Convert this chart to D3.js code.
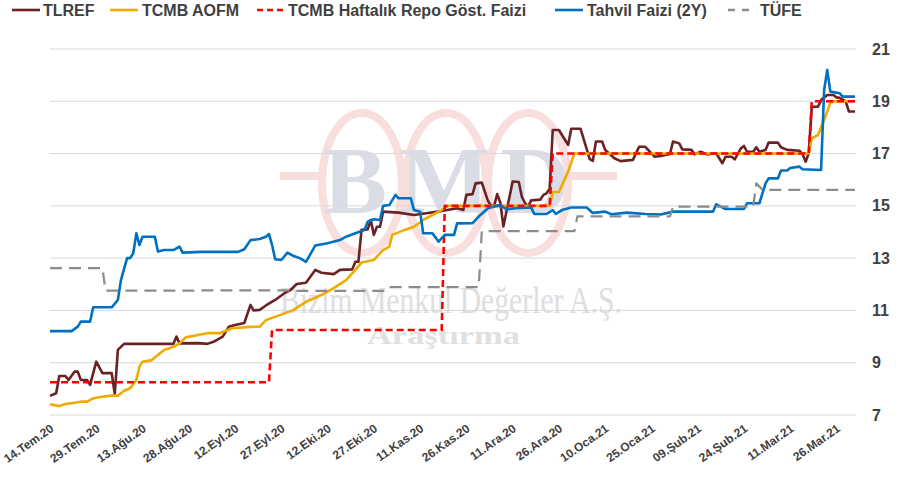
<!DOCTYPE html>
<html>
<head>
<meta charset="utf-8">
<script src="https://cdn.jsdelivr.net/npm/d3@7"></script>
<style>
  body { margin: 0; background: #fff; }
  svg { font-family: "Liberation Sans", Arial, sans-serif; }
</style>
</head>
<body>
<div id="chart"></div>
<script>
// Seriler (tarih, değer)
const tlrefDates = ["2020-07-14","2020-07-16","2020-07-17","2020-07-19","2020-07-20","2020-07-22","2020-07-23","2020-07-24","2020-07-26","2020-07-27","2020-07-29","2020-07-31","2020-08-03","2020-08-04","2020-08-05","2020-08-07","2020-08-23","2020-08-24","2020-08-25","2020-08-31","2020-09-03","2020-09-05","2020-09-08","2020-09-10","2020-09-12","2020-09-15","2020-09-17","2020-09-18","2020-09-20","2020-09-22","2020-09-25","2020-09-28","2020-09-30","2020-10-02","2020-10-05","2020-10-08","2020-10-10","2020-10-14","2020-10-16","2020-10-20","2020-10-21","2020-10-22","2020-10-23","2020-10-25","2020-10-26","2020-10-27","2020-10-28","2020-10-29","2020-10-30","2020-11-04","2020-11-09","2020-11-13","2020-11-18","2020-11-23","2020-11-25","2020-11-26","2020-11-28","2020-11-29","2020-12-01","2020-12-03","2020-12-04","2020-12-05","2020-12-06","2020-12-07","2020-12-08","2020-12-09","2020-12-11","2020-12-13","2020-12-14","2020-12-15","2020-12-16","2020-12-17","2020-12-20","2020-12-21","2020-12-22","2020-12-23","2020-12-24","2020-12-26","2020-12-29","2020-12-30","2021-01-02","2021-01-05","2021-01-06","2021-01-07","2021-01-09","2021-01-10","2021-01-13","2021-01-15","2021-01-19","2021-01-21","2021-01-23","2021-01-26","2021-01-28","2021-01-31","2021-02-01","2021-02-03","2021-02-04","2021-02-07","2021-02-08","2021-02-10","2021-02-12","2021-02-15","2021-02-17","2021-02-18","2021-02-20","2021-02-21","2021-02-23","2021-02-24","2021-02-25","2021-02-27","2021-02-28","2021-03-01","2021-03-03","2021-03-04","2021-03-07","2021-03-08","2021-03-10","2021-03-14","2021-03-15","2021-03-16","2021-03-17","2021-03-18","2021-03-20","2021-03-21","2021-03-23","2021-03-25","2021-03-26","2021-03-27","2021-03-29","2021-03-30","2021-04-01"];
const tlrefValues = [7.73,7.83,8.49,8.49,8.34,8.66,8.66,8.34,8.34,8.15,9.04,8.60,8.60,7.80,9.49,9.72,9.72,10.00,9.74,9.75,9.72,9.80,10.00,10.38,10.44,10.52,11.21,11.00,11.02,11.19,11.40,11.66,11.78,12.01,12.06,12.55,12.44,12.39,12.55,12.57,12.86,12.86,14.08,14.10,14.46,13.89,14.20,14.20,14.78,14.74,14.65,14.72,14.80,14.91,14.84,15.42,15.45,15.86,15.89,15.19,15.01,15.01,15.45,15.13,14.21,14.78,15.93,15.91,15.34,15.11,14.97,15.21,15.24,15.42,15.48,15.65,17.90,17.90,17.33,17.95,17.95,16.79,16.72,17.46,17.46,17.14,16.82,16.71,16.76,17.26,17.26,16.88,16.91,16.98,17.46,17.39,17.16,17.14,16.97,17.07,16.97,17.01,16.63,16.88,16.88,16.78,17.20,17.29,17.07,17.07,17.24,17.07,17.14,17.42,17.42,17.24,17.14,17.11,16.97,16.69,17.01,18.79,18.79,19.05,19.24,19.24,19.15,19.13,19.00,18.61,18.61];

const aofmDates = ["2020-07-14","2020-07-17","2020-07-19","2020-07-22","2020-07-24","2020-07-26","2020-07-28","2020-07-31","2020-08-03","2020-08-05","2020-08-07","2020-08-09","2020-08-11","2020-08-12","2020-08-13","2020-08-16","2020-08-18","2020-08-20","2020-08-23","2020-08-25","2020-08-27","2020-08-31","2020-09-03","2020-09-07","2020-09-11","2020-09-17","2020-09-20","2020-09-22","2020-09-27","2020-10-01","2020-10-05","2020-10-10","2020-10-14","2020-10-18","2020-10-21","2020-10-23","2020-10-27","2020-10-30","2020-11-01","2020-11-02","2020-11-06","2020-11-09","2020-11-12","2020-11-15","2020-11-18","2020-11-20","2020-12-23","2020-12-24","2020-12-26","2020-12-29","2020-12-31","2021-03-17","2021-03-18","2021-03-20","2021-03-22","2021-03-24","2021-03-25","2021-04-01"];
const aofmValues = [7.41,7.34,7.42,7.47,7.51,7.51,7.64,7.70,7.74,7.74,7.93,8.02,8.34,8.85,9.04,9.10,9.30,9.49,9.61,9.74,9.97,10.06,10.13,10.13,10.32,10.37,10.38,10.63,10.84,11.02,11.33,11.59,11.85,12.16,12.55,12.83,12.93,13.31,13.44,13.89,14.08,14.20,14.46,14.65,14.84,15.00,15.00,15.53,15.53,16.32,17.00,17.00,17.58,17.71,18.29,18.94,19.00,19.00];

const repoDates = ["2020-07-14","2020-09-23","2020-09-24","2020-11-18","2020-11-19","2020-12-23","2020-12-24","2021-03-17","2021-03-18","2021-04-01"];
const repoValues = [8.25,8.25,10.25,10.25,15,15,17,17,19,19];

const bondDates = ["2020-07-14","2020-07-21","2020-07-23","2020-07-24","2020-07-27","2020-07-28","2020-08-03","2020-08-05","2020-08-06","2020-08-08","2020-08-09","2020-08-10","2020-08-11","2020-08-12","2020-08-13","2020-08-17","2020-08-18","2020-08-20","2020-08-23","2020-08-25","2020-08-26","2020-09-01","2020-09-13","2020-09-15","2020-09-17","2020-09-20","2020-09-22","2020-09-23","2020-09-24","2020-09-25","2020-09-27","2020-09-29","2020-10-01","2020-10-03","2020-10-05","2020-10-08","2020-10-12","2020-10-16","2020-10-18","2020-10-21","2020-10-24","2020-10-25","2020-10-27","2020-10-29","2020-10-30","2020-11-01","2020-11-03","2020-11-04","2020-11-08","2020-11-09","2020-11-11","2020-11-12","2020-11-15","2020-11-17","2020-11-19","2020-11-22","2020-11-23","2020-11-28","2020-11-30","2020-12-03","2020-12-07","2020-12-09","2020-12-12","2020-12-17","2020-12-18","2020-12-22","2020-12-24","2020-12-25","2020-12-27","2020-12-30","2021-01-04","2021-01-06","2021-01-10","2021-01-12","2021-01-17","2021-01-23","2021-01-28","2021-02-01","2021-02-14","2021-02-15","2021-02-16","2021-02-18","2021-02-24","2021-02-25","2021-03-01","2021-03-03","2021-03-04","2021-03-07","2021-03-08","2021-03-10","2021-03-11","2021-03-14","2021-03-15","2021-03-21","2021-03-22","2021-03-23","2021-03-24","2021-03-27","2021-03-28","2021-04-01"];
const bondValues = [10.21,10.21,10.38,10.57,10.57,11.12,11.12,11.40,12.16,13.00,13.00,13.19,13.95,13.50,13.82,13.82,13.25,13.31,13.31,13.44,13.21,13.24,13.24,13.34,13.69,13.73,13.82,13.92,13.50,12.96,12.93,13.21,13.08,13.00,12.86,13.48,13.57,13.69,13.82,13.95,14.08,14.39,14.49,14.46,15.00,15.03,15.42,15.29,15.29,14.84,14.77,13.95,13.95,13.63,13.89,13.89,14.33,14.34,14.59,14.91,15.03,14.87,14.91,14.94,14.69,14.69,14.84,14.69,14.84,14.94,14.94,14.73,14.78,14.68,14.74,14.69,14.67,14.78,14.78,15.06,15.00,14.88,14.88,15.10,15.10,15.86,16.05,16.05,16.35,16.35,16.45,16.50,16.40,16.37,19.43,20.20,19.37,19.31,19.18,19.18];

const cpiDates = ["2020-07-14","2020-07-31","2020-08-01","2020-08-31","2020-09-01","2020-09-30","2020-10-01","2020-10-31","2020-11-01","2020-11-30","2020-12-01","2020-12-31","2021-01-01","2021-01-31","2021-02-01","2021-02-27","2021-02-28","2021-03-02","2021-04-01"];
const cpiValues = [12.62,12.62,11.76,11.76,11.77,11.77,11.75,11.75,11.89,11.89,14.03,14.03,14.60,14.60,14.97,14.97,15.86,15.61,15.61];

const tickDates = ["2020-07-14","2020-07-29","2020-08-13","2020-08-28","2020-09-12","2020-09-27","2020-10-12","2020-10-27","2020-11-11","2020-11-26","2020-12-11","2020-12-26","2021-01-10","2021-01-25","2021-02-09","2021-02-24","2021-03-11","2021-03-26"];
const tickLabels = ["14.Tem.20","29.Tem.20","13.Ağu.20","28.Ağu.20","12.Eyl.20","27.Eyl.20","12.Eki.20","27.Eki.20","11.Kas.20","26.Kas.20","11.Ara.20","26.Ara.20","10.Oca.21","25.Oca.21","09.Şub.21","24.Şub.21","11.Mar.21","26.Mar.21"];
const yTicks = [7, 9, 11, 13, 15, 17, 19, 21];

const parse = d3.timeParse("%Y-%m-%d");

const series = [
  {name: "TLREF", dates: tlrefDates, values: tlrefValues, color: "#6b2225", dash: null, width: 2.6},
  {name: "TCMB AOFM", dates: aofmDates, values: aofmValues, color: "#f0ab00", dash: null, width: 2.6},
  {name: "TCMB Haftalık Repo Göst. Faizi", dates: repoDates, values: repoValues, color: "#ff0000", dash: "7,4", width: 2.6},
  {name: "Tahvil Faizi (2Y)", dates: bondDates, values: bondValues, color: "#0070c0", dash: null, width: 2.6},
  {name: "TÜFE", dates: cpiDates, values: cpiValues, color: "#8c8c8c", dash: "12,7", width: 2.2}
];

const width = 901, height = 492;
const plot = {left: 50, right: 856, top: 49, bottom: 415};

const svg = d3.select('#chart')
    .append('svg')
    .attr('width', width)
    .attr('height', height);

const x = d3.scaleTime()
    .domain([parse("2020-07-14"), parse("2021-04-01")])
    .range([50, 855]);

const y = d3.scaleLinear()
    .domain([7, 21])
    .range([plot.bottom, plot.top]);

// Filigran
const serif = '"Liberation Serif", "Times New Roman", serif';
const pink = '#f9dede';
const wm = svg.append('g').attr('class', 'watermark');
[362, 446, 528].forEach(cx => {
    wm.append('ellipse')
        .attr('cx', cx).attr('cy', 183)
        .attr('rx', 40).attr('ry', 70)
        .attr('fill', 'none')
        .attr('stroke', pink)
        .attr('stroke-width', 8);
});
wm.append('line').attr('x1', 280).attr('x2', 322).attr('y1', 176).attr('y2', 176)
    .attr('stroke', pink).attr('stroke-width', 8);
wm.append('line').attr('x1', 566).attr('x2', 617).attr('y1', 176).attr('y2', 176)
    .attr('stroke', pink).attr('stroke-width', 8);
[["B", 355], ["M", 445], ["D", 535]].forEach(([t, cx]) => {
    wm.append('text')
        .attr('x', cx).attr('y', 213)
        .attr('text-anchor', 'middle')
        .attr('font-family', serif)
        .attr('font-weight', 'bold')
        .attr('font-size', 96)
        .attr('fill', '#dadde6')
        .text(t);
});
wm.append('text')
    .attr('x', 280).attr('y', 313)
    .attr('textLength', 342)
    .attr('lengthAdjust', 'spacingAndGlyphs')
    .attr('font-family', serif)
    .attr('font-size', 38)
    .attr('fill', '#dedede')
    .text('Bizim Menkul Değerler A.Ş.');
wm.append('text')
    .attr('x', 367).attr('y', 344)
    .attr('textLength', 153)
    .attr('lengthAdjust', 'spacingAndGlyphs')
    .attr('font-family', serif)
    .attr('font-weight', 'bold')
    .attr('font-size', 26)
    .attr('fill', '#e0e0e0')
    .text('Araştırma');

// Izgara çizgileri
svg.append('g')
    .selectAll('line')
    .data(yTicks)
    .join('line')
    .attr('x1', plot.left)
    .attr('x2', plot.right)
    .attr('y1', d => y(d))
    .attr('y2', d => y(d))
    .attr('stroke', '#d9d9d9')
    .attr('stroke-width', 1);

// Y ekseni (sağ)
svg.append('g')
    .selectAll('text')
    .data(yTicks)
    .join('text')
    .attr('x', 872)
    .attr('y', d => y(d))
    .attr('dy', '0.35em')
    .attr('font-size', 16)
    .attr('font-weight', 'bold')
    .attr('fill', '#404040')
    .text(d => d);

// X ekseni etiketleri
svg.append('g')
    .selectAll('text')
    .data(tickDates)
    .join('text')
    .attr('transform', d => `translate(${x(parse(d)) + 2},${427}) rotate(-35)`)
    .attr('text-anchor', 'end')
    .attr('dy', '0.35em')
    .attr('font-size', 12)
    .attr('font-weight', 'bold')
    .attr('fill', '#404040')
    .text((d, i) => tickLabels[i]);

// Çizgiler
const line = d3.line()
    .x(d => x(d.date))
    .y(d => y(d.value));

series.forEach(s => {
    const pts = s.dates.map((d, i) => ({date: parse(d), value: s.values[i]}));
    svg.append('path')
        .datum(pts)
        .attr('fill', 'none')
        .attr('stroke', s.color)
        .attr('stroke-width', s.width)
        .attr('stroke-linejoin', 'round')
        .attr('stroke-dasharray', s.dash)
        .attr('d', line);
});

// Lejant
const legendItems = [
    {lx: 12, tx: 43},
    {lx: 110, tx: 142},
    {lx: 257, tx: 288},
    {lx: 555, tx: 587},
    {lx: 728, tx: 760}
];
const legend = svg.append('g');
series.forEach((s, i) => {
    const it = legendItems[i];
    legend.append('line')
        .attr('x1', it.lx).attr('x2', it.lx + 28)
        .attr('y1', 10).attr('y2', 10)
        .attr('stroke', s.color)
        .attr('stroke-width', 2.6)
        .attr('stroke-dasharray', s.dash ? (i === 2 ? '6,4' : '7,7') : null);
    legend.append('text')
        .attr('x', it.tx).attr('y', 16)
        .attr('font-size', 16)
        .attr('font-weight', 'bold')
        .attr('fill', '#404040')
        .text(s.name);
});
</script>
</body>
</html>
